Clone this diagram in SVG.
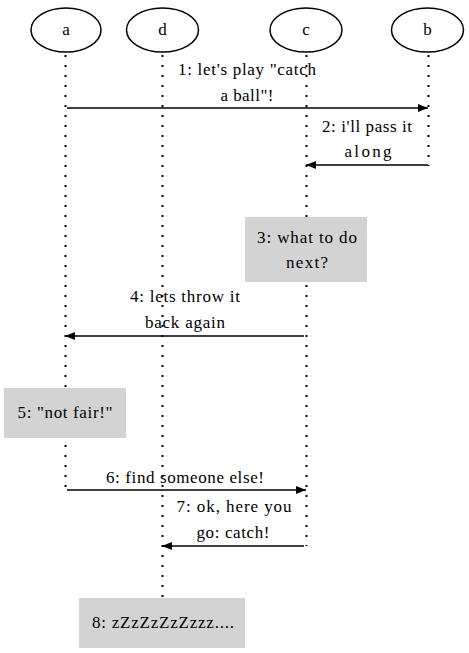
<svg xmlns="http://www.w3.org/2000/svg" width="469" height="653" viewBox="0 0 469 653">
<style>
.t{font-family:'Liberation Serif','Times New Roman',serif;font-size:17px;fill:#000;text-anchor:middle;}
.actor{fill:#fff;stroke:#000;stroke-width:1.5;}
.life{stroke:#000;stroke-width:2;stroke-dasharray:2,8;fill:none;}
.msg{stroke:#000;stroke-width:1.6;fill:none;marker-end:url(#ah);}
.note{fill:#d3d3d3;stroke:none;}
</style>
<defs>
<marker id="ah" viewBox="0 0 10 8" refX="10" refY="4" markerWidth="11" markerHeight="8" markerUnits="userSpaceOnUse" orient="auto">
<path d="M0,0 L10,4 L0,8 Z" fill="#000"/>
</marker>
</defs>
<rect width="469" height="653" fill="#fff"/>
<g id="lifelines">
<line class="life" x1="65.5" y1="55" x2="65.5" y2="490"/>
<line class="life" x1="162.5" y1="55" x2="162.5" y2="598"/>
<line class="life" x1="306.5" y1="55" x2="306.5" y2="546"/>
<line class="life" x1="428.5" y1="55" x2="428.5" y2="166"/>
</g>
<g id="a"><ellipse class="actor" cx="66" cy="30" rx="35" ry="22"/><text class="t" x="66" y="35">a</text></g>
<g id="d"><ellipse class="actor" cx="162.5" cy="30" rx="36" ry="22"/><text class="t" x="162.5" y="35">d</text></g>
<g id="c"><ellipse class="actor" cx="306" cy="30" rx="36" ry="22"/><text class="t" x="306" y="35">c</text></g>
<g id="b"><ellipse class="actor" cx="427.5" cy="30" rx="36" ry="22"/><text class="t" x="427.5" y="35">b</text></g>
<g id="connectors">
<line class="msg" x1="67" y1="108" x2="428" y2="108"/>
<line class="msg" x1="428" y1="165" x2="306" y2="165"/>
<line class="msg" x1="304" y1="336" x2="65" y2="336"/>
<line class="msg" x1="67" y1="490" x2="306" y2="490"/>
<line class="msg" x1="304" y1="546" x2="162" y2="546"/>
</g>
<g id="labels">
<text class="t" x="247" y="75" textLength="138" lengthAdjust="spacing">1: let's play "catch</text>
<text class="t" x="247" y="101" textLength="53" lengthAdjust="spacing">a ball"!</text>
<text class="t" x="367" y="132" textLength="90" lengthAdjust="spacing">2: i'll pass it</text>
<text class="t" x="368" y="157" textLength="47" lengthAdjust="spacing">along</text>
<text class="t" x="185" y="302" textLength="110" lengthAdjust="spacing">4: lets throw it</text>
<text class="t" x="185" y="328" textLength="80" lengthAdjust="spacing">back again</text>
<text class="t" x="185" y="483" textLength="158" lengthAdjust="spacing">6: find someone else!</text>
<text class="t" x="234" y="512" textLength="115" lengthAdjust="spacing">7: ok, here you</text>
<text class="t" x="233" y="538" textLength="73" lengthAdjust="spacing">go: catch!</text>
</g>
<g id="n3"><rect class="note" x="245" y="217" width="122" height="65"/><text class="t" x="307" y="243" textLength="100" lengthAdjust="spacing">3: what to do</text><text class="t" x="307" y="268" textLength="42" lengthAdjust="spacing">next?</text></g>
<g id="n5"><rect class="note" x="4" y="388" width="122" height="50"/><text class="t" x="65" y="418" textLength="95" lengthAdjust="spacing">5: "not fair!"</text></g>
<g id="n8"><rect class="note" x="79" y="598" width="166" height="50"/><text class="t" x="163" y="628" textLength="142" lengthAdjust="spacing">8: zZzZzZzZzzz....</text></g>
</svg>
